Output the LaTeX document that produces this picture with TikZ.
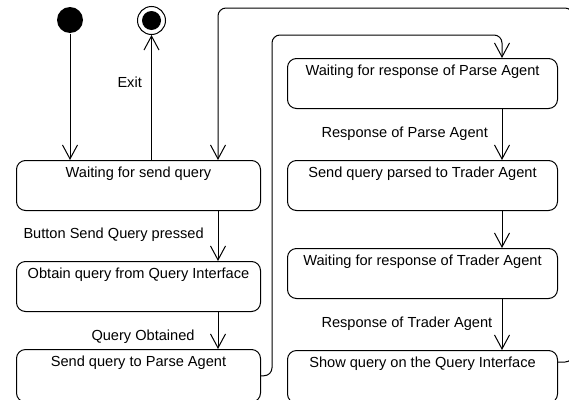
\documentclass[tikz,border=0pt]{standalone}
\usepackage{fontspec}
\setmainfont{Liberation Sans}
\usetikzlibrary{arrows.meta,calc}
\begin{document}
\begin{tikzpicture}[x=1pt,y=-1pt,line width=1pt,
  every node/.style={font=\fontsize{14.6}{17}\selectfont},
  stateL/.style={draw, rounded corners=9pt, minimum width=244pt,
    inner xsep=0pt, inner ysep=0pt, text height=16.5pt, text depth=33.5pt,
    anchor=north west},
  stateR/.style={stateL, minimum width=270pt},
  tall/.style={text depth=36pt},
  flow/.style={-{Straight Barb[length=14pt,width=15pt]}},
  loopline/.style={flow, rounded corners=8pt},
  lbl/.style={anchor=base west, inner sep=0pt}]
\useasboundingbox (0,0) rectangle (569,399);
\clip (0,0) rectangle (569,399);

% pseudo states
\node[circle, fill, inner sep=0pt, minimum size=26pt] (init) at (70,20) {};
\node[circle, draw, inner sep=0pt, minimum size=28pt] (fin) at (151.5,20.5) {};
\node[circle, fill, inner sep=0pt, minimum size=19pt] (finDot) at (fin.center) {};

% states, left column
\node[stateL] (b1) at (16,160) {Waiting for send query};
\node[stateL] (b2) at (16,261) {Obtain query from Query Interface};
\node[stateL, tall] (b3) at (16,349) {Send query to Parse Agent};

% states, right column
\node[stateR] (b4) at (287,58) {Waiting for response of Parse Agent};
\node[stateR] (b5) at (287,160) {Send query parsed to Trader Agent};
\node[stateR] (b6) at (287,248) {Waiting for response of Trader Agent};
\node[stateR, tall] (b7) at (287,350) {Show query on the Query Interface};

% transition columns and loop corners
\coordinate (lx) at (218,0);
\coordinate (rx) at (502,0);
\coordinate (innerTop) at (272,35);
\coordinate (outerTop) at (573,8);
\coordinate (b7out) at ($(b7.north east)+(0,12)$);

% transitions
\draw[flow] (init) -- (init |- b1.north);
\draw[flow] (b1.north -| fin) -- (fin.south);
\draw[flow] (b1.south -| lx) -- (b2.north -| lx);
\draw[flow] (b2.south -| lx) -- (b3.north -| lx);
\draw[flow] (b4.south -| rx) -- (b5.north -| rx);
\draw[flow] (b5.south -| rx) -- (b6.north -| rx);
\draw[flow] (b6.south -| rx) -- (b7.north -| rx);
\draw[loopline] (b3.east) -| (innerTop) -| (b4.north -| rx);
\draw[loopline] (b7out) -| (outerTop) -| (b1.north -| lx);

% transition labels
\node[lbl] (lExit) at (117,87.5) {Exit};
\node[lbl] (lBtn) at (23,238.5) {Button Send Query pressed};
\node[lbl] (lObt) at (91,340.5) {Query Obtained};
\node[lbl] (lRpa) at (321,137.5) {Response of Parse Agent};
\node[lbl] (lRta) at (321,327.5) {Response of Trader Agent};
\end{tikzpicture}
\end{document}
